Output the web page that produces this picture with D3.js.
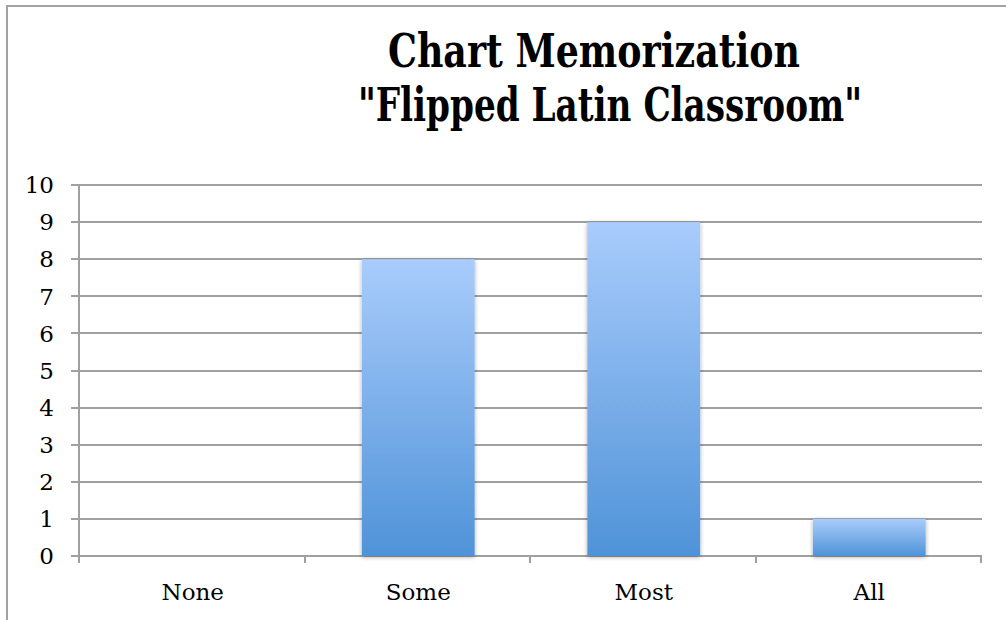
<!DOCTYPE html>
<html>
<head>
<meta charset="utf-8">
<script src="https://cdn.jsdelivr.net/npm/d3@7"></script>
<style>
  html, body { margin: 0; padding: 0; background: #fff; }
  svg { display: block; }
</style>
</head>
<body>
<script>
const categories = ["None", "Some", "Most", "All"];
const values = [0, 8, 9, 1];
const yTicks = [0, 1, 2, 3, 4, 5, 6, 7, 8, 9, 10];
const titleLines = ["Chart Memorization", "\"Flipped Latin Classroom\""];

const W = 1006, H = 620;
const svg = d3.select("body").append("svg").attr("width", W).attr("height", H);

const defs = svg.append("defs");
const grad = defs.append("linearGradient").attr("id", "barGrad")
  .attr("x1", 0).attr("y1", 0).attr("x2", 0).attr("y2", 1);
grad.append("stop").attr("offset", "0%").attr("stop-color", "#a9ccfc");
grad.append("stop").attr("offset", "100%").attr("stop-color", "#4f93d8");
const flt = defs.append("filter").attr("id", "shadow")
  .attr("x", "-20%").attr("y", "-20%").attr("width", "140%").attr("height", "140%");
flt.append("feDropShadow").attr("dx", 0).attr("dy", 1).attr("stdDeviation", 2.2)
  .attr("flood-color", "#000").attr("flood-opacity", 0.35);

// outer border
svg.append("rect").attr("x", 7).attr("y", 6).attr("width", W + 20).attr("height", H + 20)
  .attr("fill", "none").attr("stroke", "#a3a3a3").attr("stroke-width", 2);

// title
const titleSpec = [{x: 388, y: 67, len: 412}, {x: 358, y: 121, len: 504}];
svg.selectAll("text.title").data(titleLines).join("text")
  .attr("class", "title")
  .attr("x", (d, i) => titleSpec[i].x)
  .attr("y", (d, i) => titleSpec[i].y)
  .attr("textLength", (d, i) => titleSpec[i].len)
  .attr("lengthAdjust", "spacingAndGlyphs")
  .attr("font-family", "DejaVu Serif, Liberation Serif, serif")
  .attr("font-weight", "bold")
  .attr("font-size", 46)
  .attr("fill", "#000")
  .text(d => d);

const x0 = 80, x1 = 982, yTop = 185, yBot = 556;
const x = d3.scaleBand().domain(categories).range([x0, x1]).paddingInner(0.5).paddingOuter(0.25);
const y = d3.scaleLinear().domain([0, 10]).range([yBot, yTop]);

const gridColor = "#a0a0a0";
const fontFam = "DejaVu Serif, Liberation Serif, serif";

// gridlines
svg.append("g").selectAll("line").data(yTicks).join("line")
  .attr("x1", x0 - 9).attr("x2", x1)
  .attr("y1", d => Math.round(y(d))).attr("y2", d => Math.round(y(d)))
  .attr("stroke", gridColor).attr("stroke-width", 2);

// y labels
svg.append("g").selectAll("text").data(yTicks).join("text")
  .attr("x", 54).attr("y", d => y(d))
  .attr("dy", "0.36em")
  .attr("text-anchor", "end")
  .attr("font-family", fontFam).attr("font-size", 23).attr("fill", "#000")
  .text(d => d);

// y axis line
svg.append("line").attr("x1", x0 - 1).attr("x2", x0 - 1).attr("y1", yTop).attr("y2", yBot + 7)
  .attr("stroke", gridColor).attr("stroke-width", 2);

// x ticks at category boundaries
const step = x.step();
const bounds = categories.map(c => x(c) - step * 0.25).concat([x1]);
svg.append("g").selectAll("line").data(bounds).join("line")
  .attr("x1", d => Math.round(d) - 1).attr("x2", d => Math.round(d) - 1)
  .attr("y1", yBot).attr("y2", yBot + 7)
  .attr("stroke", gridColor).attr("stroke-width", 2);

// bars
svg.append("g").selectAll("rect").data(categories.map((c, i) => ({c, v: values[i]})).filter(d => d.v > 0)).join("rect")
  .attr("x", d => x(d.c))
  .attr("width", x.bandwidth())
  .attr("y", d => y(d.v))
  .attr("height", d => y(0) - y(d.v))
  .attr("fill", "url(#barGrad)")
  .attr("filter", "url(#shadow)");

// x labels
svg.append("g").selectAll("text").data(categories).join("text")
  .attr("x", d => x(d) + x.bandwidth() / 2)
  .attr("y", 600)
  .attr("text-anchor", "middle")
  .attr("font-family", fontFam).attr("font-size", 23).attr("fill", "#000")
  .text(d => d);
</script>
</body>
</html>
